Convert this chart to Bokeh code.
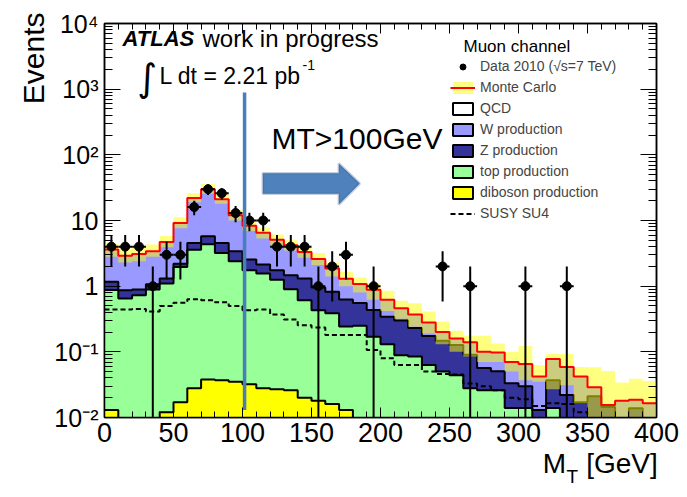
import math
import numpy as np
from bokeh.plotting import figure
from bokeh.models import (Range1d, LinearAxis, LogAxis, LogTicker, FixedTicker,
                          CustomJSTickFormatter, Label, Legend, LegendItem, PolyAnnotation, Title)
from bokeh.embed import file_html
from bokeh.resources import INLINE

# ---------------- data (10 GeV bins, 0-400 GeV) ----------------
bin_edges_gev = list(range(0, 410, 10))

data_events = [4, 4, 4, 1, 3, 3, 16, 30, 26, 13,
               10, 10, 4, 4, 4, 1, 2, 3, 0, 1,
               0, 0, 0, 0, 2, 0, 1, 0, 0, 0,
               1, 0, 0, 1, 0, 0, 0, 0, 0, 0]

w_production = [2.44, 2.03, 2.21, 2.33, 3.39, 7.0, 17.45, 24.25, 16.45, 8.6,
                5.76, 4.36, 3.35, 2.73, 1.99, 1.64, 1.03, 0.67, 0.53, 0.45,
                0.28, 0.16, 0.14, 0.106, 0.052, 0.033, 0.05, 0.044, 0.047, 0.037,
                0.035, 0.029, 0.041, 0.037, 0.025, 0.008, 0.001, 0.010, 0.0048, 0.0085]

z_production = [0.29, 0.22, 0.16, 0.18, 0.21, 0.24, 0.95, 1.40, 1.35, 1.0,
                0.79, 0.58, 0.49, 0.57, 0.70, 0.53, 0.435, 0.383, 0.303, 0.264,
                0.213, 0.211, 0.145, 0.111, 0.098, 0.083, 0.062, 0.0305, 0.0245, 0.0192,
                0.016, 0.007, 0.023, 0.013, 0.009, 0.017, 0.0115, 0.005, 0.0108, 0.005]

top_production = [0.86, 0.65, 0.73, 0.89, 1.09, 1.94, 3.57, 4.31, 3.16, 2.37,
                  1.72, 1.53, 1.23, 0.87, 0.59, 0.41, 0.37, 0.23, 0.25, 0.17,
                  0.13, 0.089, 0.085, 0.063, 0.05, 0.044, 0.028, 0.026, 0.026, 0.014,
                  0.014, 0.006, 0.014, 0.009, 0.008, 0.004, 0.003, 0.003, 0.003, 0.003]

diboson_production = [0.013, 0, 0, 0, 0.012, 0.017, 0.028, 0.038, 0.037, 0.035,
                      0.032, 0.028, 0.027, 0.026, 0.020, 0.018, 0.016, 0.013, 0, 0,
                      0, 0, 0, 0, 0, 0, 0, 0, 0, 0,
                      0, 0, 0, 0, 0, 0, 0, 0, 0, 0]

susy_su4 = [0.44, 0.44, 0.45, 0.41, 0.50, 0.56, 0.63, 0.61, 0.57, 0.50,
            0.43, 0.44, 0.37, 0.31, 0.255, 0.235, 0.18, 0.18, 0.18, 0.107,
            0.08, 0.063, 0.063, 0.05, 0.046, 0.045, 0.033, 0.03, 0.026, 0.02,
            0.019, 0.015, 0.0165, 0.016, 0.012, 0.008, 0.007, 0.006, 0.006, 0.006]

mc_band_high = [4.4, 3.7, 3.9, 4.3, 5.8, 11.2, 26, 36, 25.5, 14.5,
                9.8, 7.8, 6.1, 5.0, 4.0, 3.2, 2.3, 1.65, 1.35, 1.1,
                0.85, 0.6, 0.55, 0.41, 0.29, 0.21, 0.175, 0.175, 0.134, 0.1,
                0.123, 0.063, 0.093, 0.093, 0.059, 0.058, 0.051, 0.034, 0.039, 0.036]

mc_band_low = [2.8, 2.3, 2.4, 2.8, 3.9, 7.6, 19, 25.5, 18, 10,
               6.9, 5.3, 4.2, 3.5, 2.7, 2.1, 1.4, 1.0, 0.8, 0.62,
               0.42, 0.32, 0.24, 0.19, 0.13, 0.1, 0.085, 0.07, 0.07, 0.05,
               0.037, 0.035, 0.027, 0.031, 0.0165, 0.005, 0.005, 0.005, 0.005, 0.005]

x_tick_values = [0, 50, 100, 150, 200, 250, 300, 350, 400]
y_decade_exponents = [-2, -1, 0, 1, 2, 3, 4]

legend_labels = ["Data 2010 (\u221as=7 TeV)", "Monte Carlo", "QCD", "W production",
                 "Z production", "top production", "diboson production", "SUSY SU4"]

MT_CUT_GEV = 101.5

# ---------------- styling ----------------
FONT = "Liberation Sans"
FLOOR = 1e-3
C_W = "#9999ff"
C_Z = "#333399"
C_TOP = "#99ff99"
C_DIB = "#ffff00"

edges = np.array(bin_edges_gev, dtype=float)
lefts = edges[:-1]
rights = edges[1:]
centers = 0.5 * (lefts + rights)

dib = np.array(diboson_production, dtype=float)
cum_top = dib + np.array(top_production)
cum_z = cum_top + np.array(z_production)
cum_w = cum_z + np.array(w_production)


def ext(v):
    v = np.maximum(np.asarray(v, dtype=float), FLOOR)
    return np.r_[v, v[-1]]


floor_ext = np.full(len(edges), FLOOR)

p = figure(width=687, height=497, x_range=Range1d(0, 400), y_range=Range1d(1e-2, 1e4),
           y_axis_type="log", output_backend="svg", toolbar_location=None,
           min_border_left=104, min_border_right=31, min_border_top=23, min_border_bottom=80)
p.background_fill_color = "white"
p.border_fill_color = "white"
p.grid.visible = False
p.outline_line_color = "black"
p.outline_line_width = 1.5

# stacked histogram areas
p.varea_step(x=edges, y1=floor_ext, y2=ext(cum_w), step_mode="after", fill_color=C_W)
p.varea_step(x=edges, y1=floor_ext, y2=ext(cum_z), step_mode="after", fill_color=C_Z)
p.varea_step(x=edges, y1=floor_ext, y2=ext(cum_top), step_mode="after", fill_color=C_TOP)
p.varea_step(x=edges, y1=floor_ext, y2=ext(dib), step_mode="after", fill_color=C_DIB)
for cum in (cum_z, cum_top, dib):
    p.step(x=edges, y=ext(cum), mode="after", line_color="black", line_width=2)

# SUSY SU4
susy_r = p.step(x=edges, y=ext(susy_su4), mode="after", line_color="black",
                line_width=2, line_dash="5 3")

# MC uncertainty band + total
p.varea_step(x=edges, y1=ext(mc_band_low), y2=ext(mc_band_high), step_mode="after",
             fill_color="#ffff00", fill_alpha=0.5)
p.step(x=edges, y=ext(cum_w), mode="after", line_color="red", line_width=2)

# data with errors
d = np.array(data_events, dtype=float)
m = d > 0
err = np.sqrt(d[m])
p.segment(x0=centers[m], y0=np.maximum(d[m] - err, FLOOR), x1=centers[m], y1=d[m] + err,
          line_color="black", line_width=2)
p.segment(x0=lefts[m], y0=d[m], x1=rights[m], y1=d[m], line_color="black", line_width=2)
data_r = p.scatter(x=centers[m], y=d[m], size=9, marker="circle", color="black")

# cut line and arrow
p.segment(x0=[MT_CUT_GEV], y0=[0.013], x1=[MT_CUT_GEV], y1=[890],
          line_color="#4a7ebb", line_width=3.5)
arrow = PolyAnnotation(xs=[114.7, 169.8, 169.8, 185.0, 169.8, 169.8, 114.7],
                       ys=[52.5, 52.5, 73.8, 36.6, 17.5, 25.5, 25.5],
                       fill_color="#4f81bd", fill_alpha=1.0,
                       line_color="#385d8a", line_width=2.5)
p.add_layout(arrow)

# axes
p.xaxis.ticker = FixedTicker(ticks=x_tick_values, minor_ticks=list(range(0, 410, 10)))
p.xaxis.major_label_text_font = FONT
p.xaxis.major_label_text_font_size = "27px"
p.xaxis.major_label_text_color = "black"
p.xaxis.major_tick_in = 10
p.xaxis.major_tick_out = 0
p.xaxis.minor_tick_in = 6
p.xaxis.minor_tick_out = 0
p.xaxis.major_label_standoff = 5
p.xaxis.axis_line_width = 1.5

sup = "{'-':'\u207b','0':'\u2070','1':'\u00b9','2':'\u00b2','3':'\u00b3','4':'\u2074','5':'\u2075','6':'\u2076','7':'\u2077','8':'\u2078','9':'\u2079'}"
p.yaxis.ticker = LogTicker(num_minor_ticks=10)
p.yaxis.formatter = CustomJSTickFormatter(code="""
const e = Math.round(Math.log10(tick));
const s = %s;
if (e == 0) return '1';
if (e == 1) return '10';
return '10' + String(e).split('').map(c => s[c]).join('');
""" % sup)
p.yaxis.major_label_text_font = FONT
p.yaxis.major_label_text_font_size = "25px"
p.yaxis.major_label_text_color = "black"
p.yaxis.major_tick_in = 16
p.yaxis.major_tick_out = 0
p.yaxis.minor_tick_in = 8
p.yaxis.minor_tick_out = 0
p.yaxis.major_label_standoff = 6
p.yaxis.axis_line_width = 1.5

empty = CustomJSTickFormatter(code="return '';")
top_ax = LinearAxis(ticker=FixedTicker(ticks=x_tick_values, minor_ticks=list(range(0, 410, 10))),
                    formatter=empty,
                    major_tick_in=10, major_tick_out=0, minor_tick_in=6, minor_tick_out=0,
                    major_label_standoff=0, axis_line_width=1.5)
right_ax = LogAxis(ticker=LogTicker(num_minor_ticks=10), formatter=empty,
                   major_tick_in=16, major_tick_out=0, minor_tick_in=8, minor_tick_out=0,
                   major_label_standoff=0, axis_line_width=1.5)
p.add_layout(top_ax, "above")
p.add_layout(right_ax, "right")

# x-axis title  "M_T [GeV]"  (two label rows so that T sits as a subscript)
XT_M, XT_T, XT_GEV = 326, 339, 375
title_row = LinearAxis(ticker=FixedTicker(ticks=[XT_M, XT_GEV], minor_ticks=[]),
                       major_label_overrides={XT_M: "M", XT_GEV: "[GeV]"},
                       major_label_text_font=FONT, major_label_text_font_size="28px",
                       major_label_text_color="black", major_label_standoff=3,
                       axis_line_color=None, major_tick_line_color=None, minor_tick_line_color=None,
                       major_tick_in=0, major_tick_out=0, minor_tick_in=0, minor_tick_out=0)
sub_row = LinearAxis(ticker=FixedTicker(ticks=[XT_T], minor_ticks=[]),
                     major_label_overrides={XT_T: "T"},
                     major_label_text_font=FONT, major_label_text_font_size="19px",
                     major_label_text_color="black", major_label_standoff=-16,
                     axis_line_color=None, major_tick_line_color=None, minor_tick_line_color=None,
                     major_tick_in=0, major_tick_out=0, minor_tick_in=0, minor_tick_out=0)
p.add_layout(title_row, "below")
p.add_layout(sub_row, "below")

# y-axis title
p.add_layout(Title(text="Events", align="right", offset=-11, standoff=4,
                   text_font=FONT, text_font_size="30px", text_font_style="normal",
                   text_color="black"), "left")


# texts inside the frame
def lab(text, dx, dy, size, style="normal", align="left", baseline="alphabetic", font=FONT):
    p.add_layout(Label(x=0, y=1e4, x_offset=dx, y_offset=dy, text=text,
                       text_font=font, text_font_size=size, text_font_style=style,
                       text_align=align, text_baseline=baseline, text_color="black"))


lab("ATLAS", 18, -15, "22px", style="bold italic")
lab("work in progress", 98, -15, "24px")
lab("\u222b", 33, -54, "38px", baseline="middle", font="DejaVu Sans")
lab("L dt = 2.21 pb", 55, -52, "23px")
lab("-1", 198, -41, "14px")
lab("MT>100GeV", 167, -115, "30px")
lab("Muon channel", 359, -23, "17px")

# legend
nan1 = np.array([np.nan])
qcd_r = p.quad(left=nan1, right=nan1, top=nan1, bottom=nan1, fill_color="white", line_color="black", line_width=2)
w_r = p.quad(left=nan1, right=nan1, top=nan1, bottom=nan1, fill_color=C_W, line_color="black", line_width=2)
z_r = p.quad(left=nan1, right=nan1, top=nan1, bottom=nan1, fill_color=C_Z, line_color="black", line_width=2)
t_r = p.quad(left=nan1, right=nan1, top=nan1, bottom=nan1, fill_color=C_TOP, line_color="black", line_width=2)
d_r = p.quad(left=nan1, right=nan1, top=nan1, bottom=nan1, fill_color=C_DIB, line_color="black", line_width=2)
mcb_r = p.quad(left=nan1, right=nan1, top=nan1, bottom=nan1, fill_color="#ffff00", fill_alpha=0.5, line_color=None)
mcl_r = p.line(x=nan1, y=nan1, line_color="red", line_width=2)

items = [LegendItem(label=legend_labels[0], renderers=[data_r]),
         LegendItem(label=legend_labels[1], renderers=[mcb_r, mcl_r]),
         LegendItem(label=legend_labels[2], renderers=[qcd_r]),
         LegendItem(label=legend_labels[3], renderers=[w_r]),
         LegendItem(label=legend_labels[4], renderers=[z_r]),
         LegendItem(label=legend_labels[5], renderers=[t_r]),
         LegendItem(label=legend_labels[6], renderers=[d_r]),
         LegendItem(label=legend_labels[7], renderers=[susy_r])]
legend = Legend(items=items, location=(346, 194), glyph_width=25, glyph_height=15,
                label_height=20, spacing=1, padding=0, margin=0, label_standoff=5,
                label_text_font=FONT, label_text_font_size="14px",
                border_line_color=None, background_fill_alpha=0)
p.add_layout(legend)

open("out.html", "w").write(file_html(p, INLINE))
